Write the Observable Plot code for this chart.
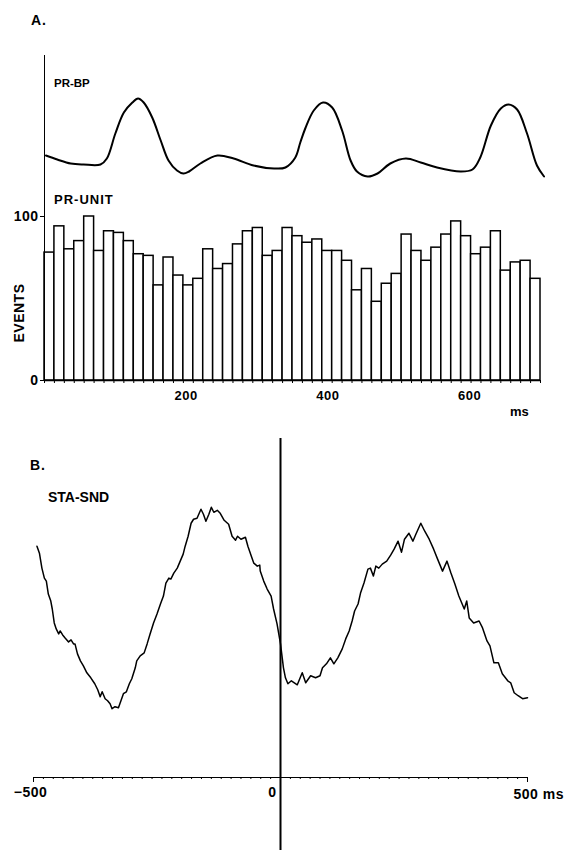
<!DOCTYPE html>
<html>
<head>
<meta charset="utf-8">
<script src="https://cdn.jsdelivr.net/npm/d3@7"></script>
<script src="https://cdn.jsdelivr.net/npm/@observablehq/plot@0.6"></script>
<style>
  body { margin: 0; background: #fff; }
  #fig { position: relative; width: 575px; height: 852px; overflow: hidden; background: #fff;
         font-family: "Liberation Sans", Arial, sans-serif; font-weight: bold; color: #000; }
  #fig svg { position: absolute; left: 0; overflow: visible; }
  #fig svg text { letter-spacing: 0.5px; }
  .lbl { position: absolute; white-space: nowrap; line-height: 1; }
</style>
</head>
<body>
<div id="fig">
  <div class="lbl" style="left:31px;top:13px;font-size:14px;letter-spacing:1px;">A.</div>
  <div class="lbl" style="left:54px;top:78px;font-size:11.5px;">PR-BP</div>
  <div class="lbl" style="left:54px;top:193px;font-size:13px;letter-spacing:1px;">PR-UNIT</div>
  <div class="lbl" style="left:19px;top:313px;font-size:14px;letter-spacing:0.5px;transform:translate(-50%,-50%) rotate(-90deg);">EVENTS</div>
  <div class="lbl" style="left:510px;top:405px;font-size:13px;">ms</div>
  <div class="lbl" style="left:30px;top:458px;font-size:14px;letter-spacing:1px;">B.</div>
  <div class="lbl" style="left:48px;top:490px;font-size:14px;">STA-SND</div>
</div>
<script>
// ---------- Panel A: PR-BP trace (time in ms, pressure in arbitrary units) ----------
const bpTrace = [
  [2, 25], [18, 21], [37, 17], [55, 16], [79, 16], [88, 22], [100, 47], [112, 68], [124, 78],
  [132, 82], [140, 78], [152, 63], [164, 40], [175, 20], [187, 10], [196, 7], [204, 9],
  [220, 17], [244, 25], [267, 22], [295, 15], [324, 12], [340, 13], [354, 23], [361, 38],
  [368, 52], [380, 70], [393, 78], [406, 73], [420, 50], [432, 20], [441, 9], [456, 4],
  [470, 7], [488, 17], [510, 22], [531, 18], [554, 13], [587, 9], [604, 11], [615, 23],
  [630, 55], [644, 72], [655, 76], [667, 71], [681, 47], [695, 15], [705, 4]
];

// ---------- Panel A: PR-UNIT histogram (14 ms bins from 0 to 700 ms) ----------
const binWidthMs = 14;
const events = [
  78, 94, 80, 85, 100, 79, 91, 90, 85, 77,
  76, 58, 75, 64, 58, 62, 80, 68, 71, 83,
  91, 93, 76, 79, 93, 88, 84, 86, 79, 79,
  73, 55, 68, 48, 59, 65, 89, 79, 73, 81,
  89, 97, 88, 77, 81, 91, 67, 72, 73, 62
];
const histTickValues = [200, 400, 600];
const histYTicks = [0, 100];

// ---------- Panel B: STA-SND trace (time in ms, amplitude in arbitrary units) ----------
const staTrace = [
  [-493, 232], [-488, 225], [-483, 210], [-478, 200], [-474, 197], [-470, 184], [-465, 177],
  [-462, 169], [-458, 155], [-454, 149], [-449, 144], [-446, 147], [-441, 143], [-436, 140],
  [-429, 136], [-424, 138], [-419, 134], [-416, 134], [-411, 124], [-405, 117], [-399, 112],
  [-392, 105], [-384, 100], [-376, 94], [-370, 88], [-365, 81], [-361, 86], [-355, 79],
  [-350, 77], [-345, 74], [-341, 69], [-335, 71], [-328, 70], [-323, 77], [-318, 84],
  [-312, 86], [-306, 94], [-301, 99], [-294, 110], [-291, 117], [-284, 122], [-276, 125],
  [-270, 134], [-264, 144], [-257, 155], [-250, 164], [-243, 174], [-237, 182], [-232, 195],
  [-226, 200], [-222, 199], [-216, 205], [-209, 210], [-203, 217], [-197, 224], [-193, 232],
  [-187, 242], [-181, 255], [-176, 259], [-169, 260], [-161, 269], [-156, 264], [-151, 257],
  [-145, 264], [-140, 271], [-135, 266], [-128, 268], [-122, 265], [-114, 258], [-105, 254],
  [-98, 242], [-91, 238], [-87, 242], [-80, 239], [-71, 241], [-66, 232], [-59, 222],
  [-54, 215], [-47, 212], [-42, 213], [-41, 207], [-34, 197], [-27, 189], [-19, 182],
  [-14, 169], [-7, 154], [0, 134], [6, 110], [10, 100], [15, 94], [22, 97], [28, 95],
  [34, 93], [44, 105], [51, 95], [61, 102], [71, 100], [80, 102], [85, 110], [93, 114],
  [101, 120], [108, 114], [116, 120], [125, 129], [132, 139], [139, 147], [145, 157],
  [150, 167], [157, 174], [162, 185], [169, 195], [177, 209], [182, 210], [188, 202],
  [193, 212], [199, 210], [206, 214], [215, 217], [223, 223], [230, 229], [238, 237],
  [245, 226], [251, 239], [260, 245], [268, 237], [274, 244], [284, 255], [292, 247],
  [301, 239], [310, 229], [318, 219], [328, 207], [337, 217], [345, 205], [353, 194],
  [361, 182], [372, 169], [377, 177], [382, 160], [391, 155], [402, 157], [409, 150],
  [418, 137], [424, 132], [432, 115], [441, 115], [449, 104], [460, 97], [466, 95],
  [473, 85], [481, 82], [490, 79], [500, 80]
];
const triggerTime = [0];
const staTickValues = [-500, 0, 500];
const staTickLabels = ["\u2212500", "0", "500 ms"];

// ---------- build ----------
const fig = document.getElementById("fig");
const baseStyle = {
  fontFamily: '"Liberation Sans", Arial, sans-serif',
  fontWeight: "bold",
  background: "transparent",
  overflow: "visible",
  color: "black"
};

function place(svg, top) {
  svg.style.top = top + "px";
  fig.appendChild(svg);
}

// PR-BP
const bpPlot = Plot.plot({
  width: 575, height: 140,
  marginLeft: 44, marginRight: 35, marginTop: 30, marginBottom: 10,
  x: {domain: [0, 700], axis: null},
  y: {domain: [0, 100], axis: null},
  style: baseStyle,
  marks: [
    Plot.ruleX([0], {insetTop: -25, insetBottom: -10, strokeWidth: 1}),
    Plot.line(bpTrace, {x: d => d[0], y: d => d[1], curve: "catmull-rom", strokeWidth: 2, stroke: "black"})
  ]
});
place(bpPlot, 50);

// PR-UNIT histogram
const hist = events.map((e, i) => ({start: i * binWidthMs, end: (i + 1) * binWidthMs, events: e}));
const binEdges = hist.map(d => d.start).concat([hist[hist.length - 1].end]);
const histPlot = Plot.plot({
  width: 575, height: 230,
  marginLeft: 44, marginRight: 35, marginTop: 26, marginBottom: 40,
  x: {domain: [0, 700]},
  y: {domain: [0, 100]},
  style: {...baseStyle, fontSize: "13px"},
  marks: [
    Plot.rectY(hist, {x1: "start", x2: "end", y: "events", fill: "white", stroke: "black", strokeWidth: 1.5}),
    Plot.ruleY([0], {strokeWidth: 1.5}),
    Plot.ruleX([0], {insetTop: -26, strokeWidth: 1}),
    Plot.axisY({ticks: histYTicks, tickSize: 4, tickPadding: 2, label: null, fontSize: 14}),
    Plot.axisX({ticks: binEdges, tickSize: 3, tickFormat: () => "", label: null}),
    Plot.axisX({ticks: histTickValues, tickSize: 0, tickPadding: 10, label: null, fontSize: 13})
  ]
});
place(histPlot, 190);

// STA-SND
const staMinorTicks = d3.range(-500, 501, 20);
const staLabels = staTickValues.map((t, i) => ({t, s: staTickLabels[i]}));
const staPlot = Plot.plot({
  width: 575, height: 422,
  marginLeft: 33, marginRight: 48, marginTop: 8, marginBottom: 75,
  x: {domain: [-500, 500]},
  y: {domain: [0, 340], axis: null},
  style: {...baseStyle, fontSize: "14px"},
  marks: [
    Plot.ruleY([0], {strokeWidth: 1}),
    Plot.axisX({ticks: staMinorTicks, tickSize: 2, tickFormat: () => "", label: null}),
    Plot.axisX({ticks: [-500, 500], tickSize: 5, tickFormat: () => "", label: null}),
    Plot.ruleX(triggerTime, {insetBottom: -73, strokeWidth: 2}),
    Plot.line(staTrace, {x: d => d[0], y: d => d[1], strokeWidth: 1.5, stroke: "black"}),
    Plot.text(staLabels.filter(d => d.t < 0), {x: "t", y: () => 0, text: "s", dx: -3, dy: 10, lineAnchor: "top", textAnchor: "middle", fontSize: 14}),
    Plot.text(staLabels.filter(d => d.t === 0), {x: "t", y: () => 0, text: "s", dx: -4, dy: 10, lineAnchor: "top", textAnchor: "end", fontSize: 14}),
    Plot.text(staLabels.filter(d => d.t > 0), {x: "t", y: () => 0, text: "s", dx: -14, dy: 12, lineAnchor: "top", textAnchor: "start", fontSize: 14})
  ]
});
place(staPlot, 430);
</script>
</body>
</html>
